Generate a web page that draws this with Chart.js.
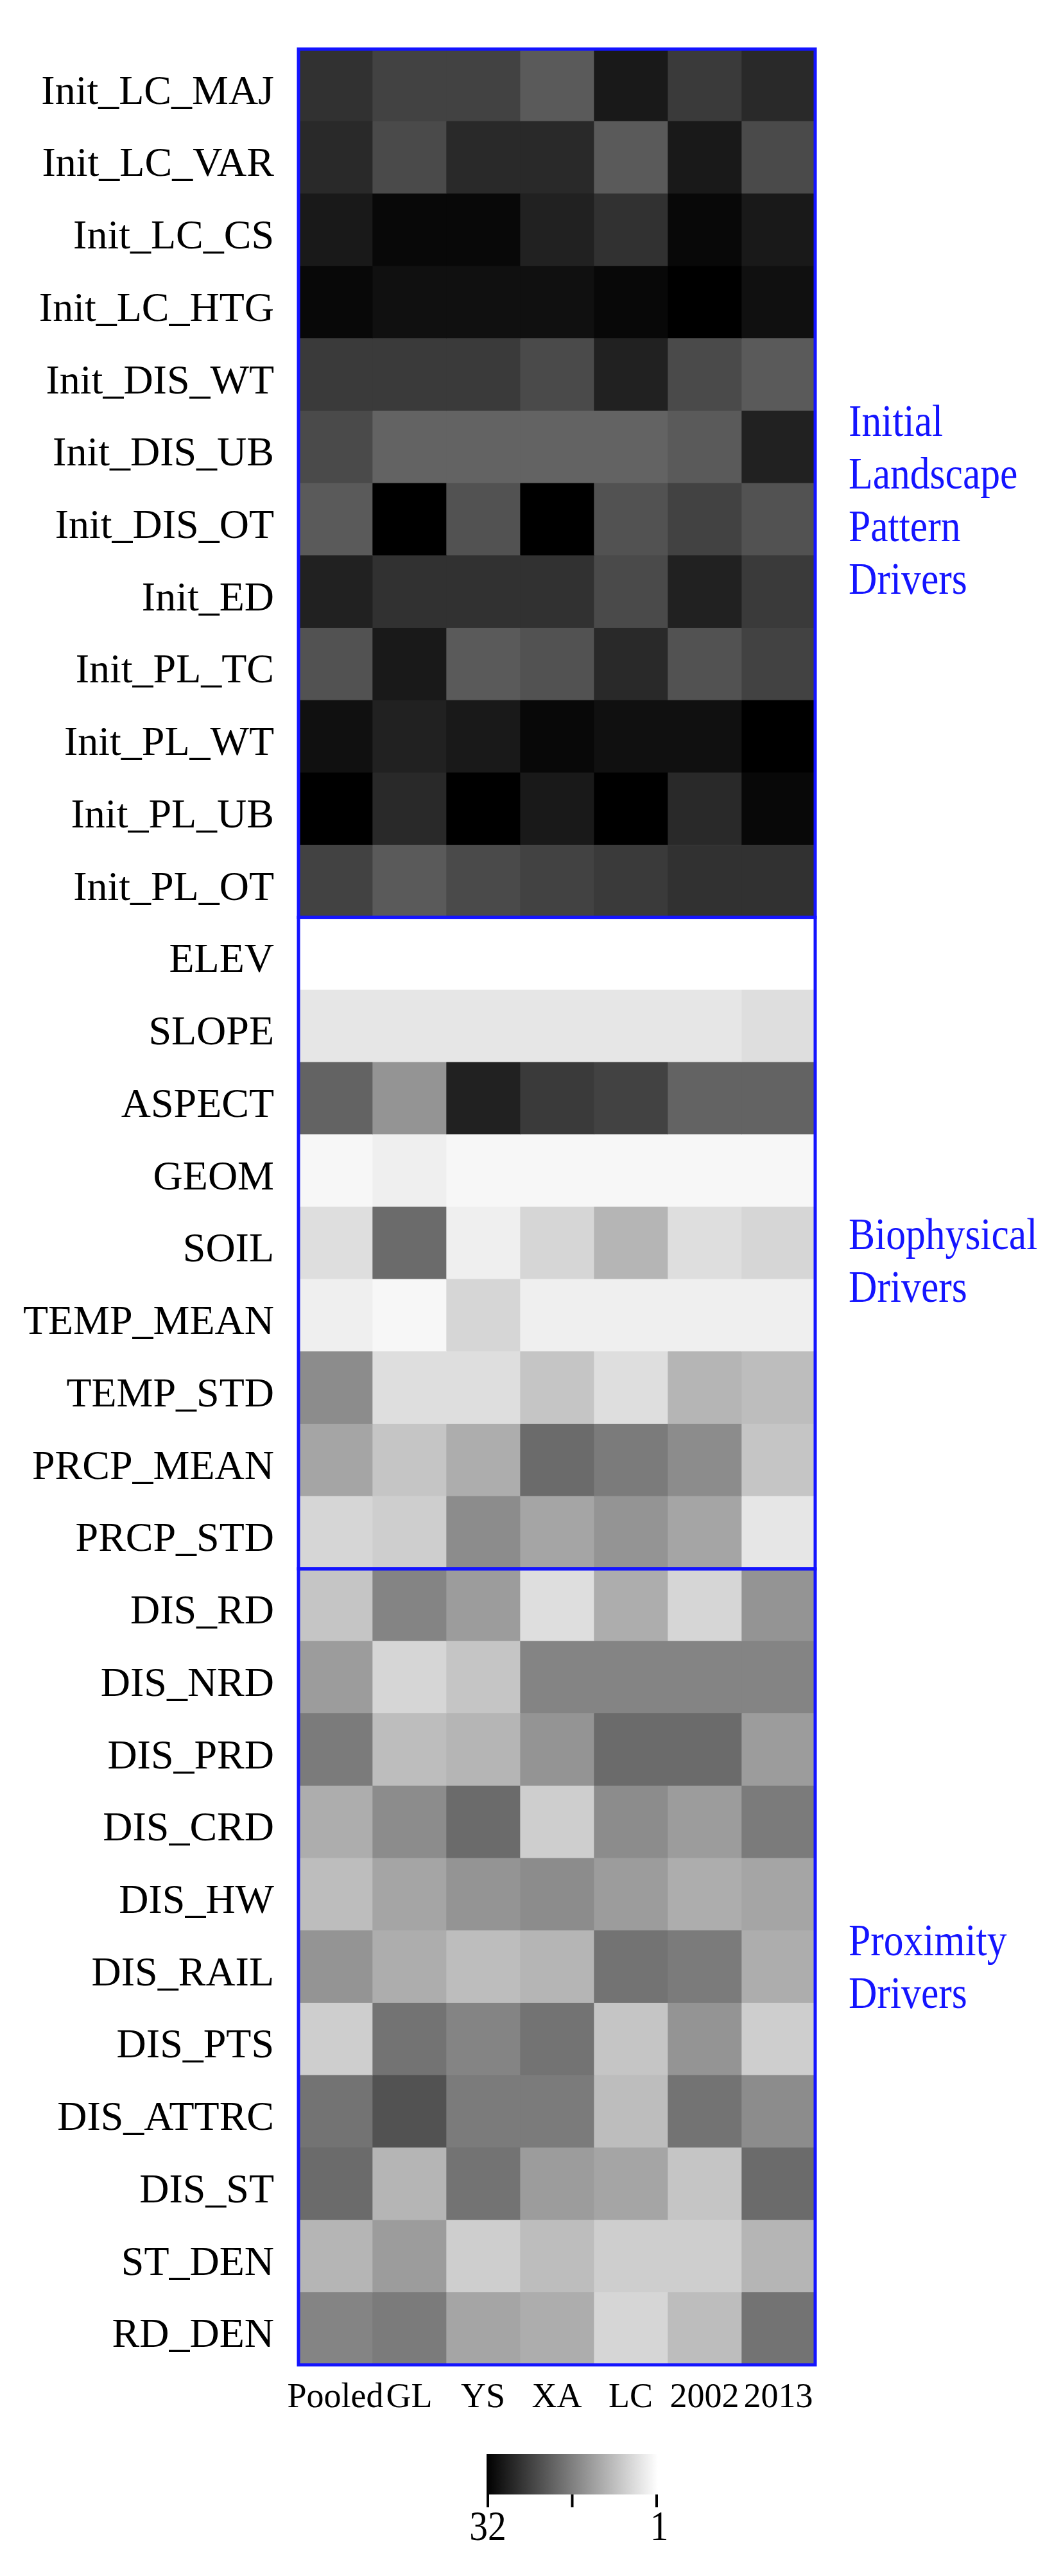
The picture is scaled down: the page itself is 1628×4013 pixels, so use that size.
<!DOCTYPE html>
<html>
<head>
<meta charset="utf-8">
<script src="https://cdn.jsdelivr.net/npm/chart.js@4.4.1/dist/chart.umd.min.js"></script>
<style>
html,body{margin:0;padding:0;background:#ffffff;}
#wrap{width:1628px;height:4013px;position:relative;}
</style>
</head>
<body>
<div id="wrap"><canvas id="c" width="1628" height="4013"></canvas></div>
<script>
// ---------------- DATA ----------------
const rowLabels = [
  'Init_LC_MAJ','Init_LC_VAR','Init_LC_CS','Init_LC_HTG','Init_DIS_WT','Init_DIS_UB',
  'Init_DIS_OT','Init_ED','Init_PL_TC','Init_PL_WT','Init_PL_UB','Init_PL_OT',
  'ELEV','SLOPE','ASPECT','GEOM','SOIL','TEMP_MEAN','TEMP_STD','PRCP_MEAN','PRCP_STD',
  'DIS_RD','DIS_NRD','DIS_PRD','DIS_CRD','DIS_HW','DIS_RAIL','DIS_PTS','DIS_ATTRC',
  'DIS_ST','ST_DEN','RD_DEN'
];
const colLabels = ['Pooled','GL','YS','XA','LC','2002','2013'];

// importance ranks (1 = white ... 32 = black), one array per column, in row order
const rankPooled = [26,27,29,31,25,23,21,28,22,30,32,24, 1,4,20,2,5,3,15,12,6, 8,13,17,11,9,14,7,18,19,10,16];
const rankGL     = [24,23,31,30,25,20,32,26,29,28,27,21, 1,4,14,3,19,2,5,8,7, 16,6,9,15,12,11,18,22,10,13,17];
const rankYS     = [24,27,31,30,25,20,22,26,21,29,32,23, 1,4,28,2,3,6,5,11,15, 13,8,10,19,14,9,16,17,18,7,12];
const rankXA     = [21,27,28,30,23,20,32,26,22,31,29,24, 1,4,25,2,6,3,8,19,12, 5,16,14,7,15,10,18,17,13,9,11];
const rankLC     = [29,21,26,31,28,20,22,23,27,30,32,25, 1,4,24,2,10,3,5,17,14, 11,16,19,15,13,18,8,9,12,7,6];
const rank2002   = [25,29,31,32,23,21,24,28,22,30,27,26, 1,4,20,2,5,3,10,15,12, 6,16,19,13,11,17,14,18,8,7,9];
const rank2013   = [27,23,29,30,21,28,22,25,24,32,31,26, 1,5,20,2,6,3,9,8,4, 14,16,13,17,12,11,7,15,19,10,18];

const sectionNames = [['Initial','Landscape','Pattern','Drivers'], ['Biophysical','Drivers'], ['Proximity','Drivers']];
const sectionFirstRow = [0, 12, 21];
const sectionLastRow  = [11, 20, 31];
const rankMax = 32;
const rankMin = 1;
const colorbarTickLabels = ['32', '1'];

// ---------------- CHART ----------------
const columns = [rankPooled, rankGL, rankYS, rankXA, rankLC, rank2002, rank2013];
const BLUE = '#1414ff';
const SERIF = '"Liberation Serif", "Times New Roman", serif';

function rankGray(r) {
  const g = Math.round(255 * (rankMax - r) / (rankMax - rankMin));
  return 'rgb(' + g + ',' + g + ',' + g + ')';
}

const datasets = columns.map((ranks, j) => ({
  label: colLabels[j],
  data: ranks.map(() => [j, j + 1]),
  backgroundColor: ranks.map(rankGray),
  borderWidth: 0,
  grouped: false,
  barPercentage: 1,
  categoryPercentage: 1
}));

const sectionLabelAnchor = [5.77, 16.285, 26.04];

function condensedText(ctx, s, x, y, sx) {
  ctx.save();
  ctx.translate(x, y);
  ctx.scale(sx, 1);
  ctx.fillText(s, 0, 0);
  ctx.restore();
}

const decorPlugin = {
  id: 'decor',
  afterDatasetsDraw(chart) {
    const ctx = chart.ctx;
    const ca = chart.chartArea;
    const y = chart.scales.y;
    ctx.save();
    // section boxes
    ctx.strokeStyle = BLUE;
    ctx.lineWidth = 5;
    sectionFirstRow.forEach((a, i) => {
      const b = sectionLastRow[i];
      const t = y.getPixelForValue(a - 0.5);
      const bt = y.getPixelForValue(b + 0.5);
      ctx.strokeRect(ca.left, t, ca.right - ca.left, bt - t);
    });
    // section labels
    ctx.fillStyle = BLUE;
    ctx.font = '70px ' + SERIF;
    ctx.textBaseline = 'middle';
    ctx.textAlign = 'left';
    sectionNames.forEach((lines, i) => {
      const c = y.getPixelForValue(sectionLabelAnchor[i]);
      lines.forEach((s, k) => {
        condensedText(ctx, s, ca.right + 52, c + (k - (lines.length - 1) / 2) * 82, 0.88);
      });
    });
    // colour bar
    const x0 = ca.left + 293, x1 = ca.left + 560;
    const y0 = ca.bottom + 139, y1 = ca.bottom + 202;
    const grad = ctx.createLinearGradient(x0, 0, x1, 0);
    grad.addColorStop(0, rankGray(rankMax));
    grad.addColorStop(1, rankGray(rankMin));
    ctx.fillStyle = grad;
    ctx.fillRect(x0, y0, x1 - x0, y1 - y0);
    ctx.strokeStyle = '#000';
    ctx.lineWidth = 4;
    const tickXs = [x0 + 2, (x0 + x1) / 2, x1 - 2];
    tickXs.forEach(tx => {
      ctx.beginPath();
      ctx.moveTo(tx, y1);
      ctx.lineTo(tx, y1 + 20);
      ctx.stroke();
    });
    ctx.fillStyle = '#000';
    ctx.font = '66px ' + SERIF;
    ctx.textAlign = 'center';
    ctx.textBaseline = 'middle';
    condensedText(ctx, colorbarTickLabels[0], tickXs[0], y1 + 54, 0.87);
    condensedText(ctx, colorbarTickLabels[1], tickXs[2] + 4, y1 + 54, 0.87);
    ctx.restore();
  }
};

new Chart(document.getElementById('c'), {
  type: 'bar',
  data: { labels: rowLabels, datasets: datasets },
  options: {
    indexAxis: 'y',
    responsive: false,
    maintainAspectRatio: false,
    devicePixelRatio: 1,
    animation: false,
    layout: { padding: { top: 27, right: 358, left: 0, bottom: 0 } },
    plugins: { legend: { display: false }, tooltip: { enabled: false } },
    scales: {
      y: {
        type: 'category',
        position: 'left',
        offset: true,
        grid: { display: false, drawTicks: false },
        border: { display: false },
        ticks: {
          color: '#000',
          font: { family: SERIF, size: 64 },
          padding: 38,
          labelOffset: 12,
          autoSkip: false
        },
        afterFit(scale) { scale.width = 465; }
      },
      x: {
        type: 'linear',
        min: 0,
        max: colLabels.length,
        display: false
      },
      xl: {
        type: 'category',
        axis: 'x',
        position: 'bottom',
        labels: colLabels,
        offset: true,
        grid: { display: false, drawTicks: false },
        border: { display: false },
        ticks: {
          color: '#000',
          font: { family: SERIF, size: 54, lineHeight: 1 },
          padding: 25,
          autoSkip: false,
          maxRotation: 0,
          minRotation: 0
        },
        afterFit(scale) { scale.height = 329; }
      }
    }
  },
  plugins: [decorPlugin]
});
</script>
</body>
</html>
